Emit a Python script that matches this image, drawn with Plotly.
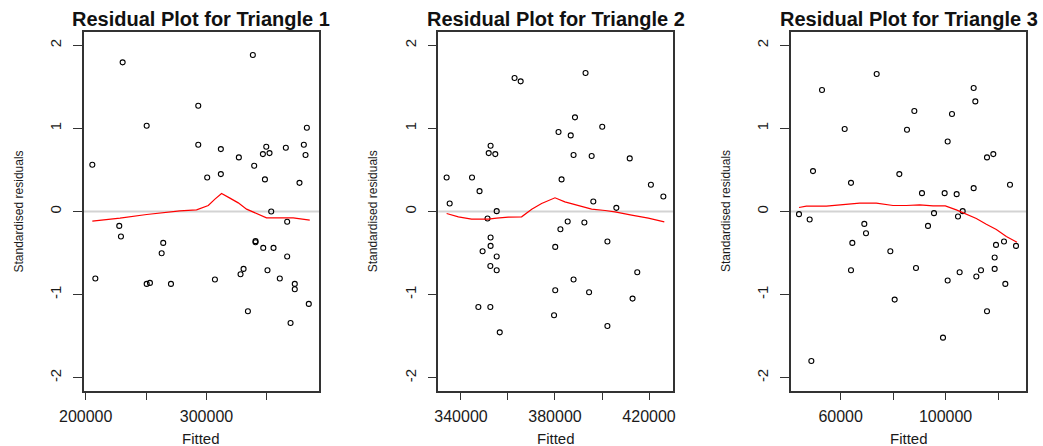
import plotly.graph_objects as go

# ---------------- data ----------------
fitted1 = [205500, 208000, 230600, 227800, 229200, 250500, 250500, 253200, 264200, 262900,
           270600, 293200, 293200, 300600, 307000, 311900, 311900, 326800, 328200, 330700,
           334300, 338400, 339500, 340600, 340600, 347000, 346700, 349500, 348400, 352200,
           350500, 353600, 355500, 360700, 365700, 366800, 366800, 369600, 373100, 373100,
           377000, 380600, 382000, 383100, 384700]
resid1 = [0.562, -0.807, 1.795, -0.173, -0.301, 1.032, -0.871, -0.859, -0.378, -0.502,
          -0.871, 1.273, 0.803, 0.410, -0.819, 0.751, 0.450, 0.651, -0.755, -0.691,
          -1.201, 1.884, 0.550, -0.357, -0.370, -0.438, 0.691, 0.779, 0.386, 0.703,
          -0.707, 0.000, -0.438, -0.807, 0.767, -0.124, -0.542, -1.341, -0.871, -0.936,
          0.345, 0.803, 0.679, 1.008, -1.112]
smooth_x1 = [205500, 228400, 250500, 267000, 278000, 291800, 301500, 307000, 312500, 319400,
             326300, 333200, 341400, 349700, 358000, 371800, 385500]
smooth_y1 = [-0.116, -0.080, -0.036, -0.008, 0.008, 0.020, 0.072, 0.149, 0.217, 0.161,
             0.104, 0.028, -0.020, -0.076, -0.076, -0.076, -0.104]

fitted2 = [333900, 335200, 344700, 347900, 347400, 349200, 351300, 351800, 352600, 354600,
           352600, 352600, 352500, 352500, 355200, 355200, 355200, 356500, 362800, 365400,
           379600, 380100, 380100, 381500, 382800, 382300, 385400, 386700, 387900, 388500,
           387900, 392500, 393000, 394500, 395600, 396300, 400100, 402300, 402300, 406100,
           411800, 413000, 415000, 420800, 426100]
resid2 = [0.410, 0.096, 0.410, 0.245, -1.149, -0.478, -0.084, 0.703, 0.791, 0.691,
          -0.313, -0.414, -0.655, -1.149, 0.004, -0.542, -0.707, -1.454, 1.606, 1.566,
          -1.249, -0.426, -0.948, 0.956, 0.386, -0.213, -0.120, 0.916, 0.679, 1.133,
          -0.819, -0.133, 1.667, -0.972, 0.667, 0.120, 1.020, -0.361, -1.378, 0.044,
          0.639, -1.048, -0.731, 0.321, 0.181]
smooth_x2 = [333900, 338900, 344500, 351600, 355200, 360100, 365800, 370100, 374300, 380000,
             384200, 389900, 395600, 401300, 405500, 412600, 419700, 426500]
smooth_y2 = [-0.024, -0.064, -0.092, -0.092, -0.080, -0.068, -0.064, 0.028, 0.096, 0.165,
             0.116, 0.068, 0.028, 0.012, -0.004, -0.044, -0.080, -0.124]

fitted3 = [44110, 48180, 48820, 49450, 52880, 61530, 63940, 64450, 63940, 69020,
           69660, 73730, 78940, 80590, 82370, 85290, 88090, 88720, 91010, 93300,
           95590, 99020, 99650, 100800, 100800, 102450, 104230, 104740, 105370, 106520,
           110710, 111350, 110710, 111730, 113510, 115800, 118210, 115800, 118720, 118720,
           119230, 122280, 122790, 124570, 126860]
resid3 = [-0.032, -0.096, -1.799, 0.486, 1.462, 0.992, 0.345, -0.378, -0.707, -0.149,
          -0.261, 1.655, -0.478, -1.060, 0.450, 0.984, 1.209, -0.679, 0.221, -0.173,
          -0.020, -1.518, 0.221, 0.843, -0.831, 1.173, 0.209, -0.060, -0.731, 0.004,
          1.486, 1.325, 0.281, -0.783, -0.707, 0.651, 0.691, -1.201, -0.554, -0.691,
          -0.402, -0.361, -0.871, 0.321, -0.414]
smooth_x3 = [44110, 46910, 54530, 60890, 67240, 73600, 79950, 85040, 90120, 95210,
             99910, 104100, 107920, 111730, 115540, 119360, 123170, 127240]
smooth_y3 = [0.048, 0.064, 0.064, 0.080, 0.100, 0.100, 0.072, 0.072, 0.080, 0.068,
             0.068, 0.020, -0.036, -0.084, -0.153, -0.217, -0.301, -0.369]

titles = ["Residual Plot for Triangle 1", "Residual Plot for Triangle 2", "Residual Plot for Triangle 3"]
x_tickvals = [[200000, 250000, 300000, 350000],
              [340000, 360000, 380000, 400000, 420000],
              [60000, 80000, 100000, 120000]]
x_ticktext = [["200000", "", "300000", ""],
              ["340000", "", "380000", "", "420000"],
              ["60000", "", "100000", ""]]
y_tickvals = [-2, -1, 0, 1, 2]
y_ticktext = ["-2", "-1", "0", "1", "2"]

# ---------------- layout geometry ----------------
W, H = 1043, 446
x_domains = [[83.5 / W, 319 / W], [438.3 / W, 673.3 / W], [791 / W, 1026 / W]]
y_domain = [1 - 391 / H, 1 - 32 / H]
x_ranges = [[198200, 393150], [330357, 430330], [41060, 130670]]
y_range = [-2.16, 2.16]

FONT = "Liberation Sans, Arial, sans-serif"
TXT = "#1a1a1a"

fig = go.Figure()
series = [(fitted1, resid1, smooth_x1, smooth_y1),
          (fitted2, resid2, smooth_x2, smooth_y2),
          (fitted3, resid3, smooth_x3, smooth_y3)]

for i, (fx, ry, sx, sy) in enumerate(series):
    xa = "x" if i == 0 else f"x{i+1}"
    ya = "y" if i == 0 else f"y{i+1}"
    fig.add_trace(go.Scatter(x=fx, y=ry, mode="markers", xaxis=xa, yaxis=ya,
                             marker=dict(symbol="circle-open", size=5, color="black",
                                         line=dict(width=1.1, color="black")),
                             showlegend=False, hoverinfo="skip"))
    fig.add_trace(go.Scatter(x=sx, y=sy, mode="lines", xaxis=xa, yaxis=ya,
                             line=dict(color="red", width=1.2),
                             showlegend=False, hoverinfo="skip"))
    # horizontal reference line at zero
    fig.add_shape(type="line", xref=f"{xa} domain", yref=ya, x0=0, x1=1, y0=0, y1=0,
                  line=dict(color="#d3d3d3", width=2), layer="below")

    xkey = "xaxis" if i == 0 else f"xaxis{i+1}"
    ykey = "yaxis" if i == 0 else f"yaxis{i+1}"
    fig.update_layout(**{
        xkey: dict(domain=x_domains[i], range=x_ranges[i], anchor=ya, automargin=False,
                   tickvals=x_tickvals[i], ticktext=x_ticktext[i],
                   ticks="outside", ticklen=7, tickwidth=1.2, tickcolor="#333",
                   showline=True, mirror=True, linecolor="#333", linewidth=1.5,
                   showgrid=False, zeroline=False,
                   tickfont=dict(family=FONT, size=16, color=TXT),
                   ticklabelstandoff=3),
        ykey: dict(domain=y_domain, range=y_range, anchor=xa, automargin=False,
                   tickvals=y_tickvals, ticktext=y_ticktext, tickangle=-90,
                   ticks="outside", ticklen=9, tickwidth=1.2, tickcolor="#333",
                   showline=True, mirror=True, linecolor="#333", linewidth=1.5,
                   showgrid=False, zeroline=False,
                   tickfont=dict(family=FONT, size=15, color=TXT),
                   ticklabelstandoff=6),
    })
    cx = (x_domains[i][0] + x_domains[i][1]) / 2
    fig.add_annotation(text=f"<b>{titles[i]}</b>", xref="paper", yref="paper",
                       x=cx, y=1 - 19 / H, xanchor="center", yanchor="middle",
                       showarrow=False, font=dict(family=FONT, size=20, color="#111"))
    fig.add_annotation(text="Fitted", xref="paper", yref="paper",
                       x=cx, y=1 - 438 / H, xanchor="center", yanchor="middle",
                       showarrow=False, font=dict(family=FONT, size=15, color=TXT))
    fig.add_annotation(text="Standardised residuals", xref="paper", yref="paper",
                       x=(x_domains[i][0] * W - 65.5) / W, y=(y_domain[0] + y_domain[1]) / 2,
                       xanchor="center", yanchor="middle", textangle=-90,
                       showarrow=False, font=dict(family=FONT, size=12, color=TXT))

fig.update_layout(width=W, height=H, margin=dict(l=0, r=0, t=0, b=0, autoexpand=False),
                  paper_bgcolor="white", plot_bgcolor="white", showlegend=False)

fig.write_html("out.html")
